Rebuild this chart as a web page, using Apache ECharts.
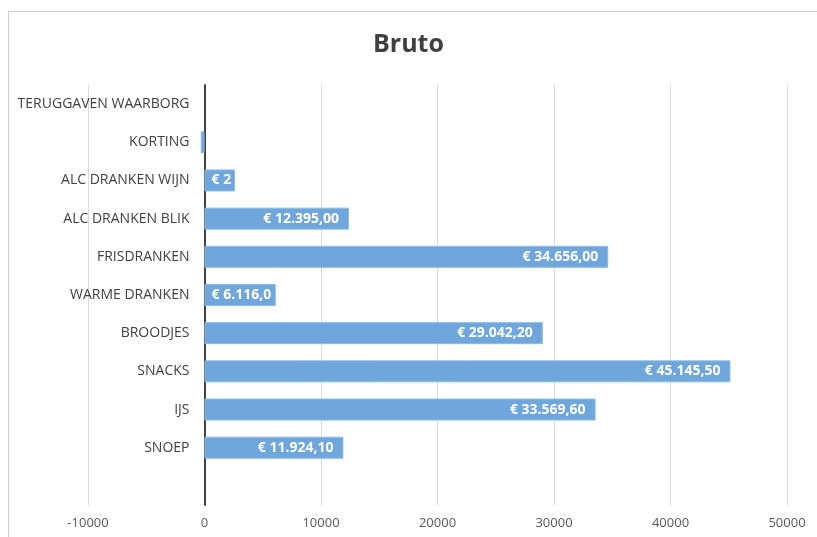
<!DOCTYPE html>
<html>
<head>
<meta charset="utf-8">
<script src="https://cdn.jsdelivr.net/npm/echarts@6/dist/echarts.min.js"></script>
<style>
html,body{margin:0;padding:0;background:#fff;}
#wrap{position:relative;width:817px;height:537px;overflow:hidden;}
#frame{position:absolute;left:8px;top:11px;width:830px;height:560px;border:1px solid #d0d0d0;box-sizing:border-box;}
#chart{position:absolute;left:0;top:0;width:817px;height:537px;}
</style>
</head>
<body>
<div id="wrap"><div id="frame"></div><div id="chart"></div></div>
<script>
const titleText = 'Bruto';
const categories = ['TERUGGAVEN WAARBORG','KORTING','ALC DRANKEN WIJN','ALC DRANKEN BLIK','FRISDRANKEN','WARME DRANKEN','BROODJES','SNACKS','IJS','SNOEP',''];
const values = [0, -320, 2620, 12395.00, 34656.00, 6116.00, 29042.20, 45145.50, 33569.60, 11924.10, null];
const axisMin = -10000, axisMax = 50000, axisStep = 10000;

const gridLeft = 88, gridRight = 30;
const pxPerUnit = (817 - gridLeft - gridRight) / (axisMax - axisMin);

function fmtEuro(v){
  const neg = v < 0; v = Math.abs(v);
  const parts = v.toFixed(2).split('.');
  const intp = parts[0].replace(/\B(?=(\d{3})+(?!\d))/g, '.');
  return '€ ' + (neg ? '-' : '') + intp + ',' + parts[1];
}

const catsRev = categories.slice().reverse();
const valsRev = values.slice().reverse();

const data = valsRev.map(function(v){
  if (v === null) return {value: null};
  const item = {value: v};
  const barPx = Math.abs(v) * pxPerUnit;
  if (v === 0) item.itemStyle = {borderWidth: 0};
  if (v <= 0 || barPx < 20) {
    item.label = {show: false};
  } else if (barPx < 110) {
    item.label = {show: true, position: 'insideLeft', distance: 7, width: Math.max(barPx - 7, 5), overflow: 'truncate', ellipsis: ''};
  }
  return item;
});

const chart = echarts.init(document.getElementById('chart'), null, {renderer: 'canvas'});
chart.setOption({
  animation: false,
  title: {
    text: titleText, left: 'center', top: 27,
    textStyle: {fontFamily: 'Open Sans', fontWeight: 'bold', fontSize: 25, color: '#404040'}
  },
  grid: {left: gridLeft, right: gridRight, top: 85, bottom: 32, containLabel: false, outerBoundsMode: 'none'},
  xAxis: {
    type: 'value', min: axisMin, max: axisMax, interval: axisStep,
    axisLine: {show: false}, axisTick: {show: false},
    splitLine: {show: true, lineStyle: {color: '#d9d9d9', width: 1}},
    axisLabel: {color: '#595959', fontFamily: 'Open Sans', fontSize: 13, margin: 12,
      formatter: function(v){ return String(v); }}
  },
  yAxis: {
    type: 'category', data: catsRev,
    axisLine: {show: true, onZero: true, lineStyle: {color: '#404040', width: 2}},
    axisTick: {show: false},
    axisLabel: {color: '#404040', fontFamily: 'Open Sans', fontSize: 14, margin: 15 - (0 - axisMin) * pxPerUnit}
  },
  series: [{
    type: 'bar', data: data, barWidth: 22,
    itemStyle: {color: '#6fa6db', borderColor: '#8cbbe6', borderWidth: 1},
    label: {
      show: true, position: 'insideRight', distance: 10,
      color: '#ffffff', fontFamily: 'Open Sans', fontWeight: 'bold', fontSize: 14,
      formatter: function(p){ return fmtEuro(p.value); }
    }
  }]
});
</script>
</body>
</html>
